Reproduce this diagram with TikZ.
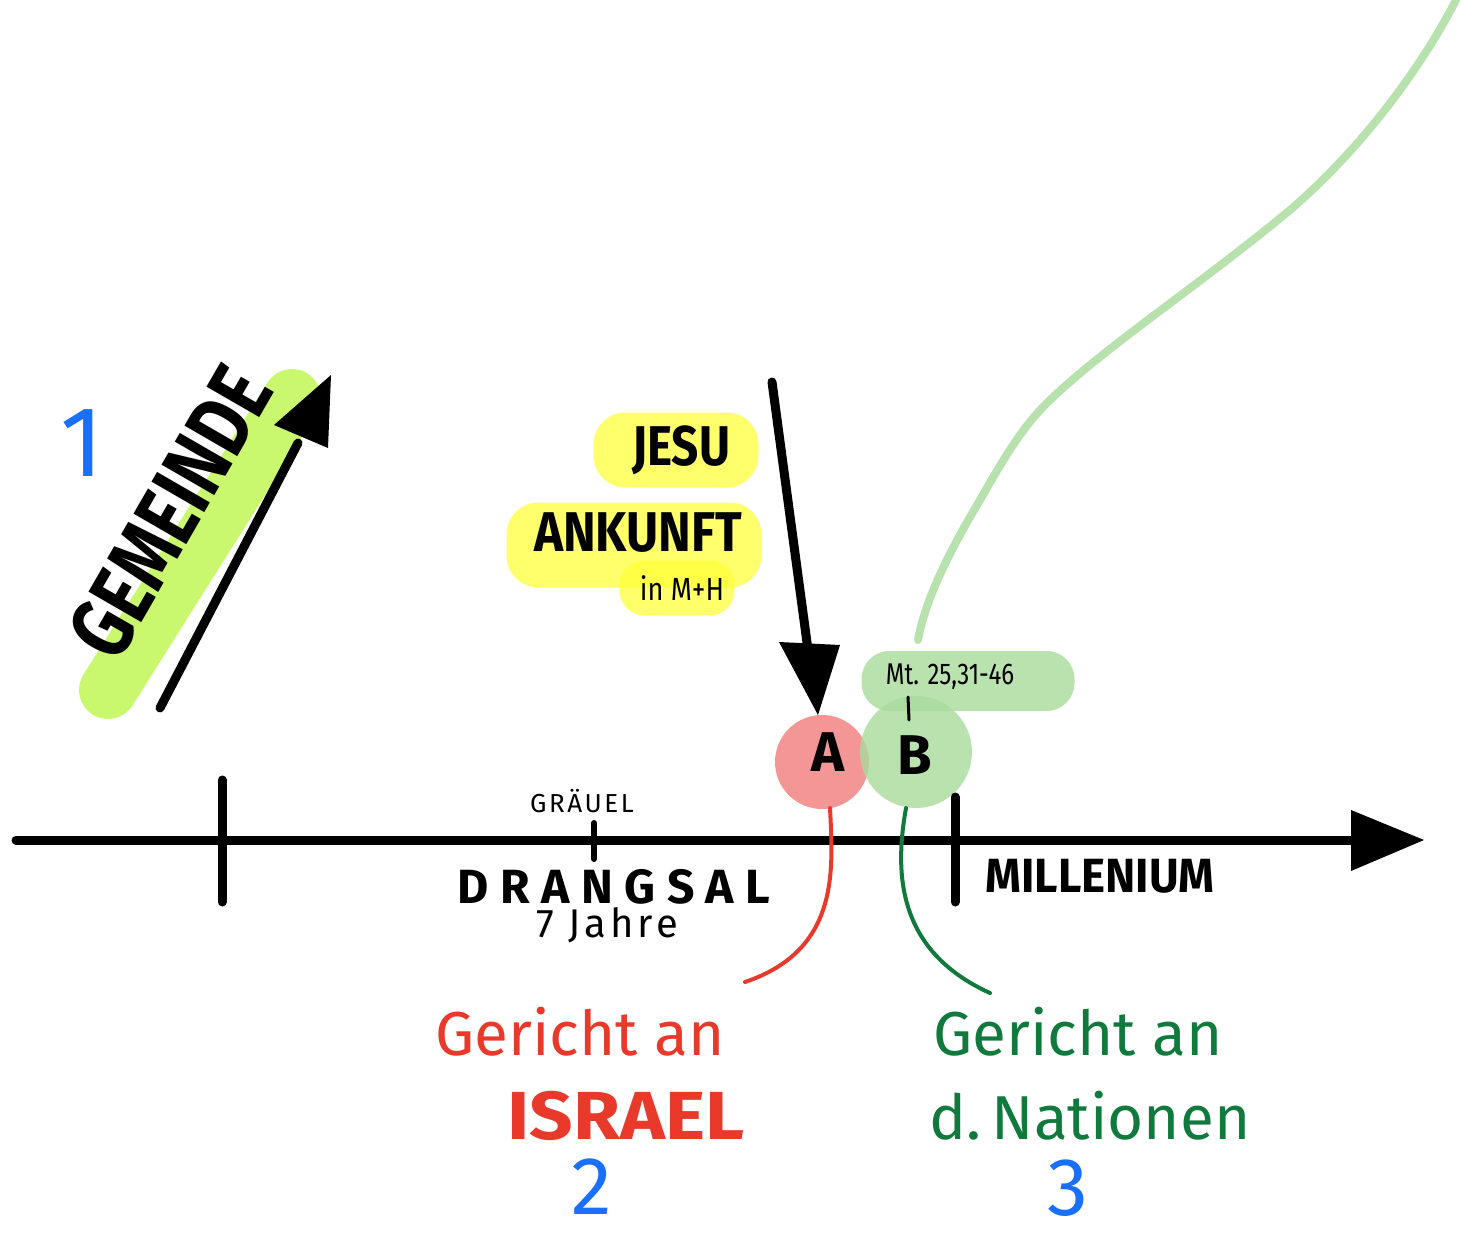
\documentclass[tikz,border=0pt]{standalone}
\usepackage{fontspec}
\setmainfont{Fira Sans}
\newfontfamily\wide{Fira Sans}[LetterSpace=24]
\newfontfamily\semiwide{Fira Sans}[LetterSpace=10]
\usetikzlibrary{calc}
\definecolor{hlgreen}{HTML}{C4F75E}
\definecolor{hlyellow}{HTML}{FFFF3A}
\definecolor{pgreen}{HTML}{A9DB9C}
\definecolor{pred}{HTML}{F27C7C}
\definecolor{tred}{HTML}{E8392A}
\definecolor{tgreen}{HTML}{0F7A3C}
\definecolor{tblue}{HTML}{1A6FFF}
\definecolor{lgreen}{HTML}{B7E2AE}
\tikzset{
  ink/.style={line width=9pt, line cap=round, black},
  bluenum/.style={text=tblue, font=\fontsize{100}{100}\selectfont},
  redtxt/.style={text=tred, font=\fontsize{62}{62}\selectfont},
  greentxt/.style={text=tgreen, font=\fontsize{62}{62}\selectfont},
  blacklab/.style={text=black, font=\bfseries\fontsize{52}{52}\selectfont},
  yblob/.style={fill=hlyellow, fill opacity=0.75, rounded corners=32pt, draw=none},
  thinline/.style={line width=4pt, line cap=round},
}
\begin{document}
\begin{tikzpicture}[x=1pt,y=-1pt]
\useasboundingbox (0,0) rectangle (1461,1238);
\fill[white] (0,0) rectangle (1461,1238);

% light green long curve
\coordinate (cs) at (918,640);
\coordinate (ce) at (1456,0);
\draw[lgreen, line width=8pt, line cap=round, line join=round]
  (cs) .. controls (925,600) and (950,550) .. (980,500)
  .. controls (1000,465) and (1020,430) .. (1045,405)
  .. controls (1100,350) and (1200,285) .. (1290,210)
  .. controls (1360,150) and (1420,70) .. (ce);

% GEMEINDE highlight + arrow
\coordinate (g1) at (108,690);
\coordinate (g2) at (292,398);
\draw[hlgreen, opacity=0.9, line width=58pt, line cap=round] (g1) -- (g2);
\coordinate (ga1) at (160,708);
\coordinate (ga2) at (298,443);
\coordinate (gtip) at (331,375);
\draw[ink] (ga1) -- (ga2);
\fill[black] (gtip) -- (274,425) -- (328,448) -- cycle;
\node[text=black, font=\bfseries\fontsize{88}{88}\selectfont, rotate=60, xscale=0.78, inner sep=0pt] (gem) at (170,512) {GEMEINDE};
\node[bluenum] (n1) at (82,443) {1};

% yellow highlights
\node[yblob, minimum width=165pt, minimum height=75pt] (yb1) at (676,450) {};
\node[yblob, minimum width=255pt, minimum height=85pt] (yb2) at (634,545) {};
\node[yblob, minimum width=115pt, minimum height=55pt, rounded corners=25pt] (yb3) at (677,588) {};
\node[blacklab, font=\bfseries\fontsize{56}{56}\selectfont, xscale=0.85] (jesu) at (681,450) {JESU};
\node[blacklab, font=\bfseries\fontsize{56}{56}\selectfont, xscale=0.88] (ank) at (638,533) {ANKUNFT};
\node[text=black, font=\fontsize{32}{32}\selectfont, xscale=0.85] (mh) at (682,588) {in M+H};

% blobs A and B
\node[circle, fill=pred, fill opacity=0.8, minimum size=94pt, inner sep=0] (ablob) at (822,762) {};
\node[rounded corners=28pt, fill=pgreen, fill opacity=0.8, minimum width=213pt, minimum height=60pt] (pill) at (968,681) {};
\node[circle, fill=pgreen, fill opacity=0.8, minimum size=112pt, inner sep=0] (bblob) at (916,752) {};
\node[text=black, font=\fontsize{30}{30}\selectfont, xscale=0.8] (mt) at (950,677) {Mt. 25,31-46};
\coordinate (mtk1) at (908,697);
\coordinate (mtk2) at (909,720);
\draw[thinline, black, line width=3pt] (mtk1) -- (mtk2);
\node[text=black, font=\bfseries\fontsize{56}{56}\selectfont] (A) at (828,752) {A};
\node[text=black, font=\bfseries\fontsize{56}{56}\selectfont] (B) at (915,755) {B};

% Jesus arrow
\coordinate (ja1) at (772,382);
\coordinate (ja2) at (808,650);
\coordinate (jtip) at (818,715);
\draw[ink] (ja1) -- (ja2);
\fill[black] (jtip) -- (779,642) -- (840,645) -- cycle;

% timeline
\coordinate (t0) at (16,840);
\coordinate (t1) at (1360,840);
\coordinate (ttip) at (1424,840);
\draw[ink] (t0) -- (t1);
\fill[black] (ttip) -- (1351,810) -- (1351,871) -- cycle;
\coordinate (k1a) at (222,780); \coordinate (k1b) at (222,902);
\coordinate (k2a) at (955,797); \coordinate (k2b) at (955,902);
\coordinate (k3a) at (594,823); \coordinate (k3b) at (594,859);
\draw[ink] (k1a) -- (k1b);
\draw[ink] (k2a) -- (k2b);
\draw[black, line width=6pt, line cap=round] (k3a) -- (k3b);

\node[text=black, font=\semiwide\fontsize{26}{26}\selectfont] (grauel) at (582,801) {GRÄUEL};
\node[text=black, font=\wide\bfseries\fontsize{48}{48}\selectfont, anchor=base] (drang) at (614,903) {DRANGSAL};
\node[text=black, font=\semiwide\fontsize{40}{40}\selectfont, anchor=base] (jahre) at (607,937) {7 Jahre};
\node[text=black, font=\bfseries\fontsize{48}{48}\selectfont, xscale=0.95] (mill) at (1100,876) {MILLENIUM};

% connectors to judgements
\coordinate (rs) at (830,808);
\coordinate (re) at (745,982);
\draw[tred, line width=4pt, line cap=round] (rs) .. controls (833,870) and (840,950) .. (re);
\coordinate (gs) at (906,808);
\coordinate (ge) at (990,993);
\draw[tgreen, line width=4pt, line cap=round] (gs) .. controls (895,870) and (895,950) .. (ge);

% judgement texts
\node[redtxt] (ger1) at (580,1032) {Gericht an};
\node[redtxt, font=\bfseries\fontsize{68}{68}\selectfont, xscale=1.12] (isr) at (626,1116) {ISRAEL};
\node[bluenum, font=\fontsize{82}{82}\selectfont, anchor=base, inner sep=0pt] (n2) at (592,1214) {2};
\node[greentxt] (ger2) at (1078,1032) {Gericht an};
\node[greentxt] (nat) at (1090,1116) {d.\,Nationen};
\node[bluenum, font=\fontsize{82}{82}\selectfont, anchor=base, inner sep=0pt] (n3) at (1068,1215) {3};
\end{tikzpicture}
\end{document}
